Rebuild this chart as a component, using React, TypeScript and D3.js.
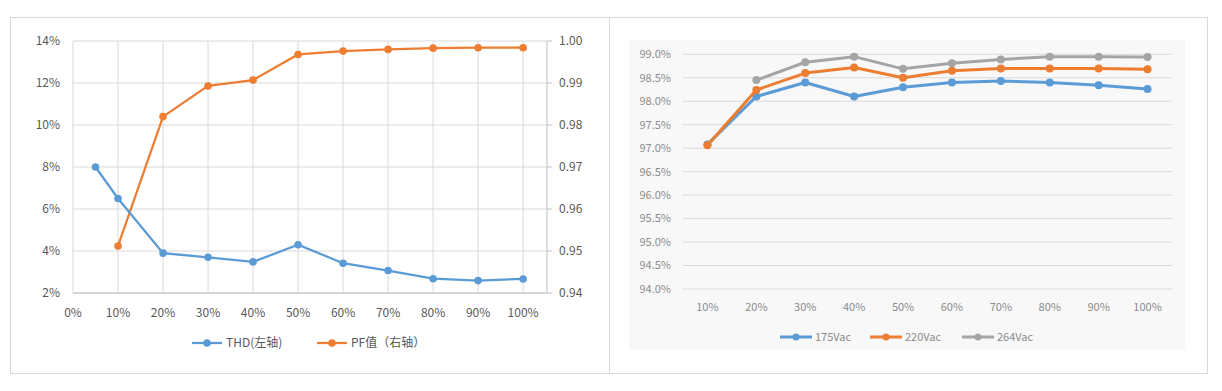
import React from "react";
import * as d3 from "d3";

// left chart: THD and PF vs load
const loadThd = [0.05, 0.1, 0.2, 0.3, 0.4, 0.5, 0.6, 0.7, 0.8, 0.9, 1.0];
const thd = [0.08, 0.065, 0.039, 0.037, 0.0348, 0.043, 0.0342, 0.0307, 0.0268, 0.0259, 0.0267];
const loadPf = [0.1, 0.2, 0.3, 0.4, 0.5, 0.6, 0.7, 0.8, 0.9, 1.0];
const pf = [0.9512, 0.982, 0.9893, 0.9907, 0.9968, 0.9976, 0.998, 0.9983, 0.9984, 0.9984];
const leftXTicks = [0, 0.1, 0.2, 0.3, 0.4, 0.5, 0.6, 0.7, 0.8, 0.9, 1.0];
const leftYTicks = [0.02, 0.04, 0.06, 0.08, 0.1, 0.12, 0.14];
const rightYTicks = [0.94, 0.95, 0.96, 0.97, 0.98, 0.99, 1.0];

// right chart: efficiency per input voltage
const categories = ["10%", "20%", "30%", "40%", "50%", "60%", "70%", "80%", "90%", "100%"];
const eff175 = [97.08, 98.1, 98.4, 98.1, 98.3, 98.4, 98.43, 98.4, 98.34, 98.26];
const eff220 = [97.06, 98.24, 98.6, 98.72, 98.5, 98.65, 98.7, 98.7, 98.7, 98.68];
const eff264 = [null, 98.45, 98.83, 98.95, 98.69, 98.81, 98.89, 98.95, 98.95, 98.94];
const effTicks = [94, 94.5, 95, 95.5, 96, 96.5, 97, 97.5, 98, 98.5, 99];

const BLUE = "#5B9BD5";
const ORANGE = "#ED7D31";
const GRAY = "#A5A5A5";
const GRID = "#D9D9D9";
const FONT = "'Noto Sans CJK SC', 'Noto Sans', sans-serif";

const LeftChart = () => {
  const x = d3.scaleLinear().domain([0, 1.053]).range([73, 547]);
  const yL = d3.scaleLinear().domain([0.02, 0.14]).range([293, 41]);
  const yR = d3.scaleLinear().domain([0.94, 1.0]).range([293, 41]);
  const pct = d3.format(".0%");

  const thdLine = d3.line<number>().x((d, i) => x(loadThd[i])).y(d => yL(d));
  const pfLine = d3.line<number>().x((d, i) => x(loadPf[i])).y(d => yR(d));

  return (
    <g fontFamily={FONT} fontSize={12} fill="#595959">
      {leftYTicks.map(t => (
        <g key={"ly" + t}>
          <line x1={73} x2={547} y1={yL(t)} y2={yL(t)} stroke={GRID} />
          <text x={60} y={yL(t)} dy="0.35em" textAnchor="end">{pct(t)}</text>
        </g>
      ))}
      {leftXTicks.map(t => (
        <g key={"lx" + t}>
          <line x1={x(t)} x2={x(t)} y1={41} y2={293} stroke={GRID} />
          <text x={x(t)} y={313} dy="0.35em" textAnchor="middle">{pct(t)}</text>
        </g>
      ))}
      <line x1={73} x2={547} y1={293} y2={293} stroke="#BFBFBF" />
      <line x1={547} x2={547} y1={41} y2={293} stroke="#BFBFBF" />
      {rightYTicks.map(t => (
        <g key={"ry" + t}>
          <line x1={547} x2={552} y1={yR(t)} y2={yR(t)} stroke="#BFBFBF" />
          <text x={559} y={yR(t)} dy="0.35em">{t.toFixed(2)}</text>
        </g>
      ))}
      <path d={pfLine(pf) || ""} fill="none" stroke={ORANGE} strokeWidth={2.25} />
      {pf.map((d, i) => (
        <circle key={"pf" + i} cx={x(loadPf[i])} cy={yR(d)} r={3.8} fill={ORANGE} />
      ))}
      <path d={thdLine(thd) || ""} fill="none" stroke={BLUE} strokeWidth={2.25} />
      {thd.map((d, i) => (
        <circle key={"thd" + i} cx={x(loadThd[i])} cy={yL(d)} r={3.8} fill={BLUE} />
      ))}
      <line x1={192} x2={222} y1={343} y2={343} stroke={BLUE} strokeWidth={2.25} />
      <circle cx={207} cy={343} r={3.8} fill={BLUE} />
      <text x={226} y={343} dy="0.35em">THD(左轴)</text>
      <line x1={317} x2={347} y1={343} y2={343} stroke={ORANGE} strokeWidth={2.25} />
      <circle cx={332} cy={343} r={3.8} fill={ORANGE} />
      <text x={351} y={343} dy="0.35em">PF值（右轴）</text>
    </g>
  );
};

const RightChart = () => {
  const x = d3.scaleBand().domain(categories).range([683, 1172]);
  const y = d3.scaleLinear().domain([94, 99]).range([289, 54.3]);
  const cx = (c: string) => (x(c) as number) + x.bandwidth() / 2;
  const line = d3
    .line<number | null>()
    .defined(d => d != null)
    .x((d, i) => cx(categories[i]))
    .y(d => y(d as number));

  const series = [
    { name: "175Vac", values: eff175, color: BLUE, lx: 780 },
    { name: "220Vac", values: eff220, color: ORANGE, lx: 870 },
    { name: "264Vac", values: eff264, color: GRAY, lx: 962 },
  ];

  return (
    <g fontFamily={FONT} fontSize={11} fill="#8C8C8C">
      <rect x={629} y={40} width={556} height={310} fill="#F8F8F8" />
      {effTicks.map(t => (
        <g key={"ey" + t}>
          <line x1={683} x2={1172} y1={y(t)} y2={y(t)} stroke={GRID} />
          <text x={671} y={y(t)} dy="0.35em" textAnchor="end">{t.toFixed(1) + "%"}</text>
        </g>
      ))}
      {categories.map(c => (
        <text key={"ex" + c} x={cx(c)} y={307} dy="0.35em" textAnchor="middle">{c}</text>
      ))}
      {series.map(s => (
        <g key={s.name}>
          <path d={line(s.values) || ""} fill="none" stroke={s.color} strokeWidth={3} strokeLinejoin="round" />
          {s.values.map((d, i) =>
            d == null ? null : (
              <circle key={i} cx={cx(categories[i])} cy={y(d)} r={4} fill={s.color} />
            )
          )}
          <line x1={s.lx} x2={s.lx + 32} y1={337} y2={337} stroke={s.color} strokeWidth={3} />
          <circle cx={s.lx + 16} cy={337} r={3.5} fill={s.color} />
          <text x={s.lx + 35} y={337} dy="0.35em">{s.name}</text>
        </g>
      ))}
    </g>
  );
};

export default function App() {
  return (
    <svg
      width={1222}
      height={391}
      style={{ position: "absolute", left: 0, top: 0, background: "#fff" }}
    >
      <rect x={10.5} y={17.5} width={1197} height={356} fill="#fff" stroke={GRID} />
      <line x1={609.5} x2={609.5} y1={17.5} y2={373.5} stroke={GRID} />
      <LeftChart />
      <RightChart />
    </svg>
  );
}
